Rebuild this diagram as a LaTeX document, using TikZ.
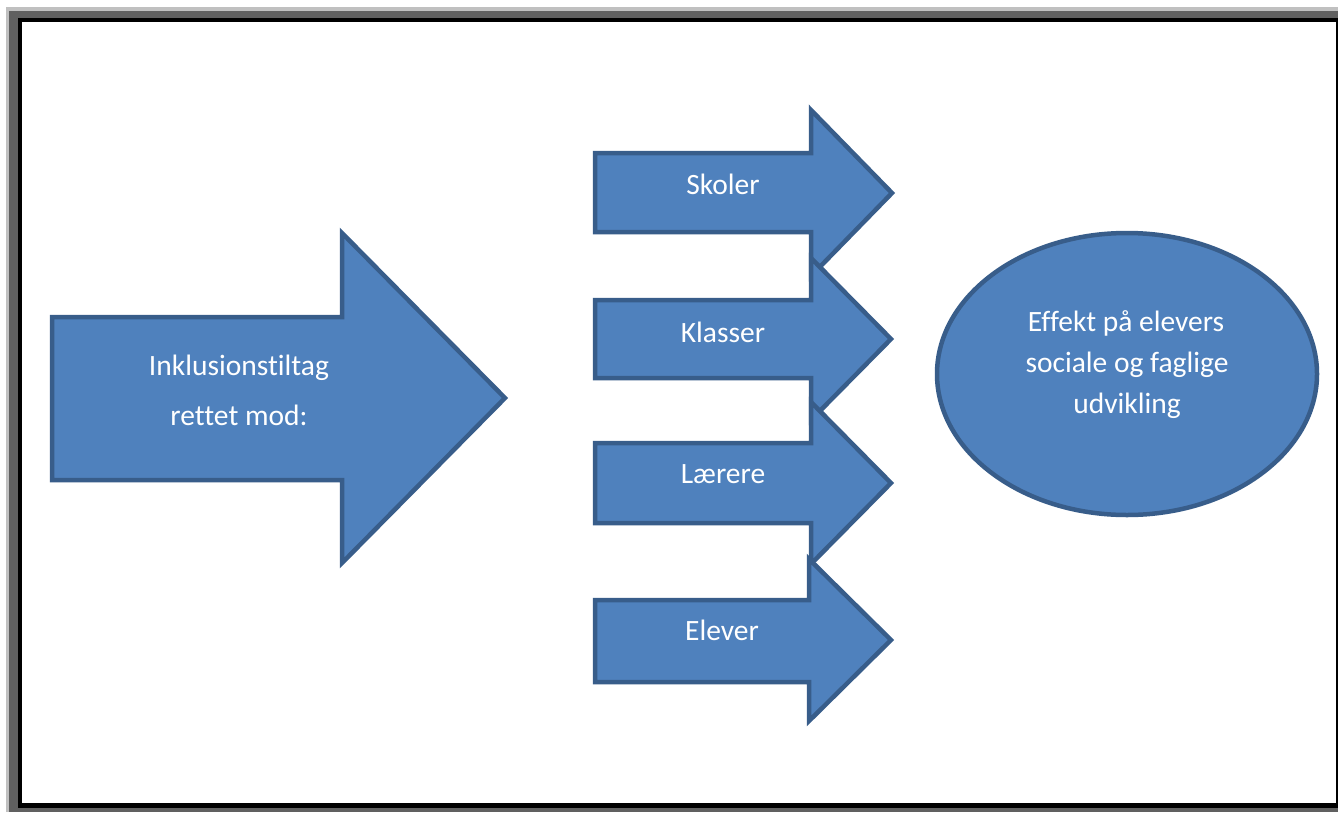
\documentclass[tikz,border=0pt]{standalone}
\usepackage{fontspec}
\setmainfont{Carlito}[Ligatures=NoCommon]
\definecolor{shapefill}{HTML}{4F81BD}
\definecolor{shapeline}{HTML}{385D8A}
\definecolor{frameshadow}{HTML}{C0C0C0}
\definecolor{framegray}{HTML}{606060}
\begin{document}
\begin{tikzpicture}[x=1pt,y=-1pt,
  bluebody/.style={fill=shapefill,draw=shapeline,line width=4.5pt,line join=miter},
  whitelabel/.style={text=white,font=\fontsize{29.5}{41}\selectfont,anchor=base,inner sep=0pt,align=center}]
\useasboundingbox (0,0) rectangle (1338,812);
% page frame
\fill[frameshadow] (6,7) rectangle (1338,812);
\fill[framegray] (9,11) rectangle (1338,812);
\fill[black] (18,18) rectangle (1338,808);
\fill[white] (22,22) rectangle (1336,803);

% large arrow
\draw[bluebody] (52,317) -- (342,317) -- (342,233) -- (505,398) -- (342,563) -- (342,480) -- (52,480) -- cycle;
\node[whitelabel] (inkl) at (239,375) {Inklusionstiltag};
\node[whitelabel] (rettet) at (239,425) {rettet mod:};

% four small arrows
\draw[bluebody] (595,153) -- (811,153) -- (811,110) -- (892,193) -- (811,276) -- (811,232) -- (595,232) -- cycle;
\node[whitelabel] (skoler) at (723,194) {Skoler};
\draw[bluebody] (595,300) -- (811,300) -- (811,258) -- (891,339) -- (811,420) -- (811,378) -- (595,378) -- cycle;
\node[whitelabel] (klasser) at (723,342) {Klasser};
\draw[bluebody] (595,443) -- (811,443) -- (811,402) -- (891,483) -- (811,564) -- (811,523) -- (595,523) -- cycle;
\node[whitelabel] (laerere) at (723,483) {Lærere};
\draw[bluebody] (595,600) -- (809,600) -- (809,559) -- (891,640) -- (809,721) -- (809,682) -- (595,682) -- cycle;
\node[whitelabel] (elever) at (722,640) {Elever};

% outcome ellipse
\draw[bluebody] (1127,374) ellipse [x radius=190, y radius=141];
\node[whitelabel] (eff1) at (1126,331) {Effekt på elevers};
\node[whitelabel] (eff2) at (1127,372) {sociale og faglige};
\node[whitelabel] (eff3) at (1127,413) {udvikling};
\end{tikzpicture}
\end{document}
